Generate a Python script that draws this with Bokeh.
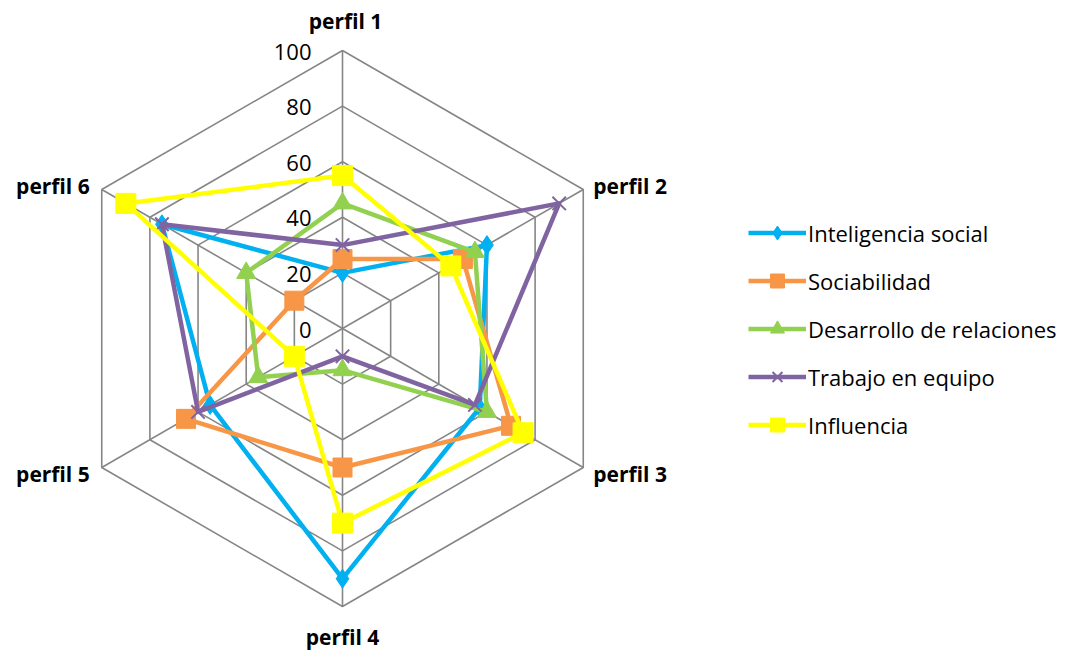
import numpy as np
from bokeh.plotting import figure
from bokeh.models import Range1d, Legend, LegendItem, ColumnDataSource
from bokeh.core.properties import value
from bokeh.embed import file_html
from bokeh.resources import INLINE

# Profiles (spokes), clockwise from the top
profiles = ["perfil 1", "perfil 2", "perfil 3", "perfil 4", "perfil 5", "perfil 6"]

# Scores for each competency, one value per profile
inteligencia_social = [20, 60, 57, 90, 55, 75]
sociabilidad = [25, 50, 70, 50, 65, 20]
desarrollo_relaciones = [45, 55, 60, 15, 35, 40]
trabajo_equipo = [30, 90, 55, 10, 60, 75]
influencia = [55, 45, 75, 70, 20, 90]

series_names = ["Inteligencia social", "Sociabilidad", "Desarrollo de relaciones",
                "Trabajo en equipo", "Influencia"]
series_values = [inteligencia_social, sociabilidad, desarrollo_relaciones,
                 trabajo_equipo, influencia]
series_colors = ["#00B0F0", "#F79646", "#92D050", "#8064A2", "#FFFF00"]
series_markers = ["diamond", "square", "triangle", "x", "square"]
series_sizes = [19, 19, 19, 19, 20]

ring_values = [0, 20, 40, 60, 80, 100]
max_value = 100

W, H = 1076, 650
cx_px, cy_px = 342, 328          # centre of the radar in screen pixels
px_per_unit = 278 / max_value     # radius of the outer ring in pixels

FONT = "Open Sans"

p = figure(width=W, height=H, output_backend="svg", toolbar_location=None,
           x_range=Range1d(-cx_px / px_per_unit, (W - cx_px) / px_per_unit),
           y_range=Range1d(-(H - cy_px) / px_per_unit, cy_px / px_per_unit),
           min_border=0, outline_line_color=None, background_fill_color="white")
p.axis.visible = False
p.grid.visible = False

n = len(profiles)
angles = np.deg2rad(90 - 360.0 / n * np.arange(n))
ux, uy = np.cos(angles), np.sin(angles)

grid_color = "#868686"

# hexagonal rings
ring_xs = [list(np.append(ux * v, ux[0] * v)) for v in ring_values[1:]]
ring_ys = [list(np.append(uy * v, uy[0] * v)) for v in ring_values[1:]]
p.multi_line(ring_xs, ring_ys, line_color=grid_color, line_width=1.6)

# spokes
p.multi_line([[0, ux[i] * max_value] for i in range(n)],
             [[0, uy[i] * max_value] for i in range(n)],
             line_color=grid_color, line_width=1.6)

# radial scale labels
p.text(x=[0] * len(ring_values), y=ring_values,
       text=[str(v) for v in ring_values],
       text_font=value(FONT), text_font_size="22px", text_color="#000000",
       text_align="right", text_baseline="middle", x_offset=-31, y_offset=1)

# profile labels around the outside
label_src = ColumnDataSource(dict(
    x=list(ux * max_value), y=list(uy * max_value), text=profiles,
    align=["center", "left", "left", "center", "right", "right"],
    xo=[3, 10, 10, 0, -12, -12],
    yo=[-30, -4, 6, 30, 6, -4],
))
p.text(x="x", y="y", text="text", source=label_src,
       text_font=value(FONT), text_font_style="bold", text_font_size="21px",
       text_color="#000000", text_align="align", text_baseline="middle",
       x_offset="xo", y_offset="yo")

items = []
for name, vals, color, marker, size in zip(series_names, series_values, series_colors,
                                            series_markers, series_sizes):
    vals = np.asarray(vals, dtype=float)
    xs = list(np.append(ux * vals, ux[0] * vals[0]))
    ys = list(np.append(uy * vals, uy[0] * vals[0]))
    lr = p.line(xs, ys, line_color=color, line_width=4.5, line_join="round")
    if marker == "x":
        sr = p.scatter(list(ux * vals), list(uy * vals), marker="x", size=size,
                       line_color=color, line_width=2)
    else:
        sr = p.scatter(list(ux * vals), list(uy * vals), marker=marker, size=size,
                       fill_color=color, line_color=color)
    items.append(LegendItem(label=name, renderers=[lr, sr]))

legend = Legend(items=items, location=(748, 208), orientation="vertical",
                glyph_width=58, glyph_height=35, label_height=35, spacing=13,
                label_standoff=2, padding=0, margin=0,
                border_line_color=None, background_fill_alpha=0,
                label_text_font=FONT, label_text_font_size="22px",
                label_text_color="#000000")
p.add_layout(legend)

open("out.html", "w").write(file_html(p, INLINE))
